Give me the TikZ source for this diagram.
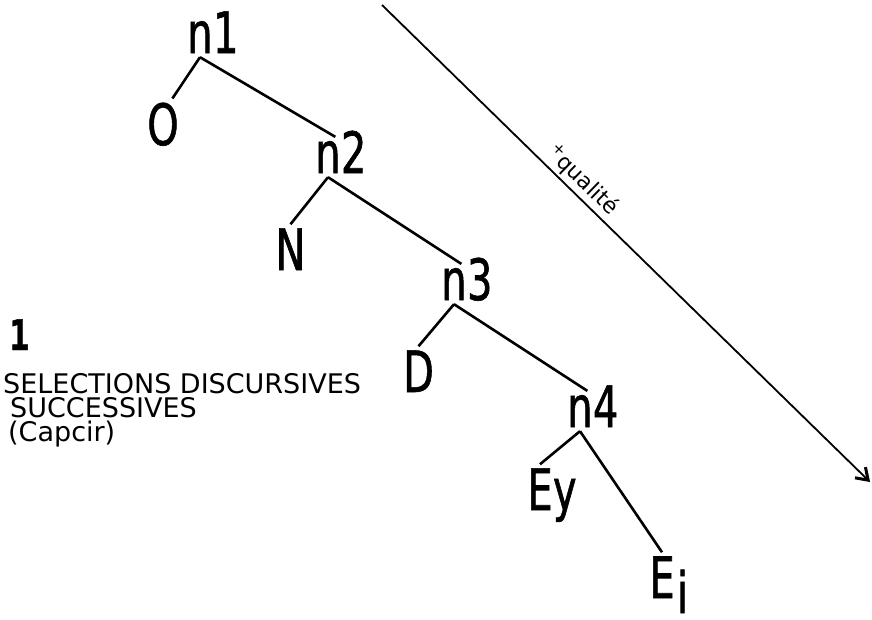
\documentclass[tikz,border=0pt]{standalone}
\usepackage{fontspec}
\setmainfont{DejaVu Sans}
\newfontfamily\stencilfont[FakeStretch=0.7,FakeBold=1]{DejaVu Sans}
\newfontfamily\legendfont{DejaVu Sans}
\usetikzlibrary{arrows.meta,positioning,calc}
\tikzset{
  term/.style    ={inner sep=4pt,anchor=base,font=\stencilfont\fontsize{57}{60}\selectfont},
  suffix/.style  ={inner sep=0pt,anchor=base west,xshift=-4pt,font=\stencilfont\fontsize{57}{60}\selectfont},
  branch/.style  ={line width=2.6pt},
  qarrow/.style  ={line width=1.8pt,-{Straight Barb[length=11pt,width=15pt,line width=3pt]}},
  legend/.style  ={inner sep=0pt,anchor=base west,font=\legendfont\fontsize{27}{27}\selectfont},
  legendnum/.style={inner sep=0pt,anchor=base west,font=\stencilfont\bfseries\fontsize{42}{42}\selectfont},
}

\begin{document}
\begin{tikzpicture}[x=1pt,y=-1pt]
  \useasboundingbox (0,0) rectangle (872,619);
  % tree: each n-node is the letter n with its index set beside it
  \node[term] (n1) at (200,53) {n};
  \node[suffix] (d1) at (n1.base east) {1};
  \node[term] (O) at (163,145) {O};
  \node[term] (n2) at (328,173) {n};
  \node[suffix] (d2) at (n2.base east) {2};
  \node[term] (N) at (290.5,270) {N};
  \node[term] (n3) at (454,300) {n};
  \node[suffix] (d3) at (n3.base east) {3};
  \node[term] (D) at (418.5,392) {D};
  \node[term] (n4) at (580,427) {n};
  \node[suffix] (d4) at (n4.base east) {4};
  \node[term] (Ey) at (540,510) {E};
  \node[suffix] (y) at (Ey.base east) {y};
  \node[term] (Ei) at (662,598) {E};
  \node[suffix,xshift=2pt,yshift=-15pt] (i) at (Ei.base east) {i};
  % branches
  \draw[branch] (n1.south) -- (O.70);
  \draw[branch] (n1.south) -- (n2.70);
  \draw[branch] (n2.south) -- (N.north);
  \draw[branch] (n2.south) -- (n3.70);
  \draw[branch] (n3.south) -- (D.north);
  \draw[branch] (n3.south) -- (n4.70);
  \draw[branch] (n4.south) -- (Ey.north);
  \draw[branch] (n4.south) -- (Ei.north);
  % quality axis
  \coordinate (qstart) at (382,5);
  \coordinate (qend) at (870,482);
  \draw[qarrow] (qstart) -- node[pos=0.39,sloped,above,inner sep=3pt,font=\fontsize{22}{22}\selectfont] (qlabel) {\textsuperscript{+}qualité} (qend);
  % caption
  \node[legendnum] (num) at (9,350) {1};
  \node[legend] (sel) at (3,393) {SELECTIONS DISCURSIVES};
  \node[legend] (succ) at (10,417) {SUCCESSIVES};
  \node[legend] (cap) at (8,441) {(Capcir)};
\end{tikzpicture}
\end{document}
